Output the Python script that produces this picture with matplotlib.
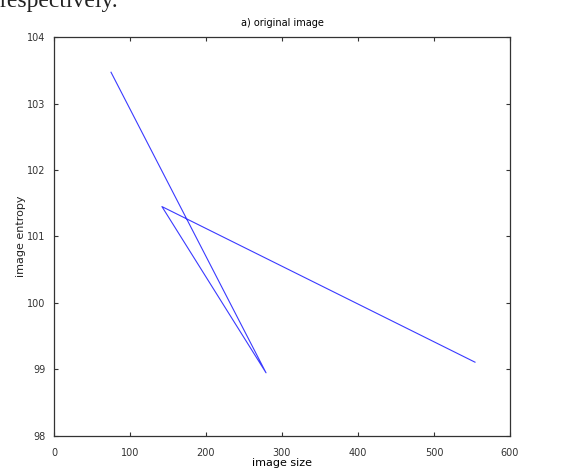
import matplotlib
matplotlib.use('Agg')
import matplotlib.pyplot as plt

# values
image_size = [75, 279, 142, 554]
image_entropy = [103.47, 98.95, 101.45, 99.11]

x_ticks = [0, 100, 200, 300, 400, 500, 600]
y_ticks = [98, 99, 100, 101, 102, 103, 104]

plt.rcParams['font.family'] = ['DejaVu Sans']

fig = plt.figure(figsize=(5.61, 4.69), dpi=100)
ax = fig.add_axes([0.0963, 0.0704, 0.8127, 0.8507])

ax.plot(image_size, image_entropy, color='#3a3aff', linewidth=0.8)

ax.set_xlim(0, 600)
ax.set_ylim(98, 104)
ax.set_xticks(x_ticks)
ax.set_yticks(y_ticks)
ax.tick_params(direction='in', length=3, width=0.8, labelsize=7,
               top=True, right=True, colors='#333333')
ax.tick_params(axis='x', pad=9)
ax.tick_params(axis='y', pad=6)
for sp in ax.spines.values():
    sp.set_color('#333333')
    sp.set_linewidth(0.9)

ax.set_title('a) original image', fontsize=7, pad=8)
ax.set_xlabel('image size', fontsize=8, labelpad=0)
ax.set_ylabel('image entropy', fontsize=8, labelpad=1, color='#222222')

# fragment of the surrounding document text, cut at the top edge
fig.text(0.0, 0.997, 'respectively.', fontsize=17, family='Liberation Serif',
         ha='left', va='center', color='#222222')

fig.savefig('out.png', dpi=100)
